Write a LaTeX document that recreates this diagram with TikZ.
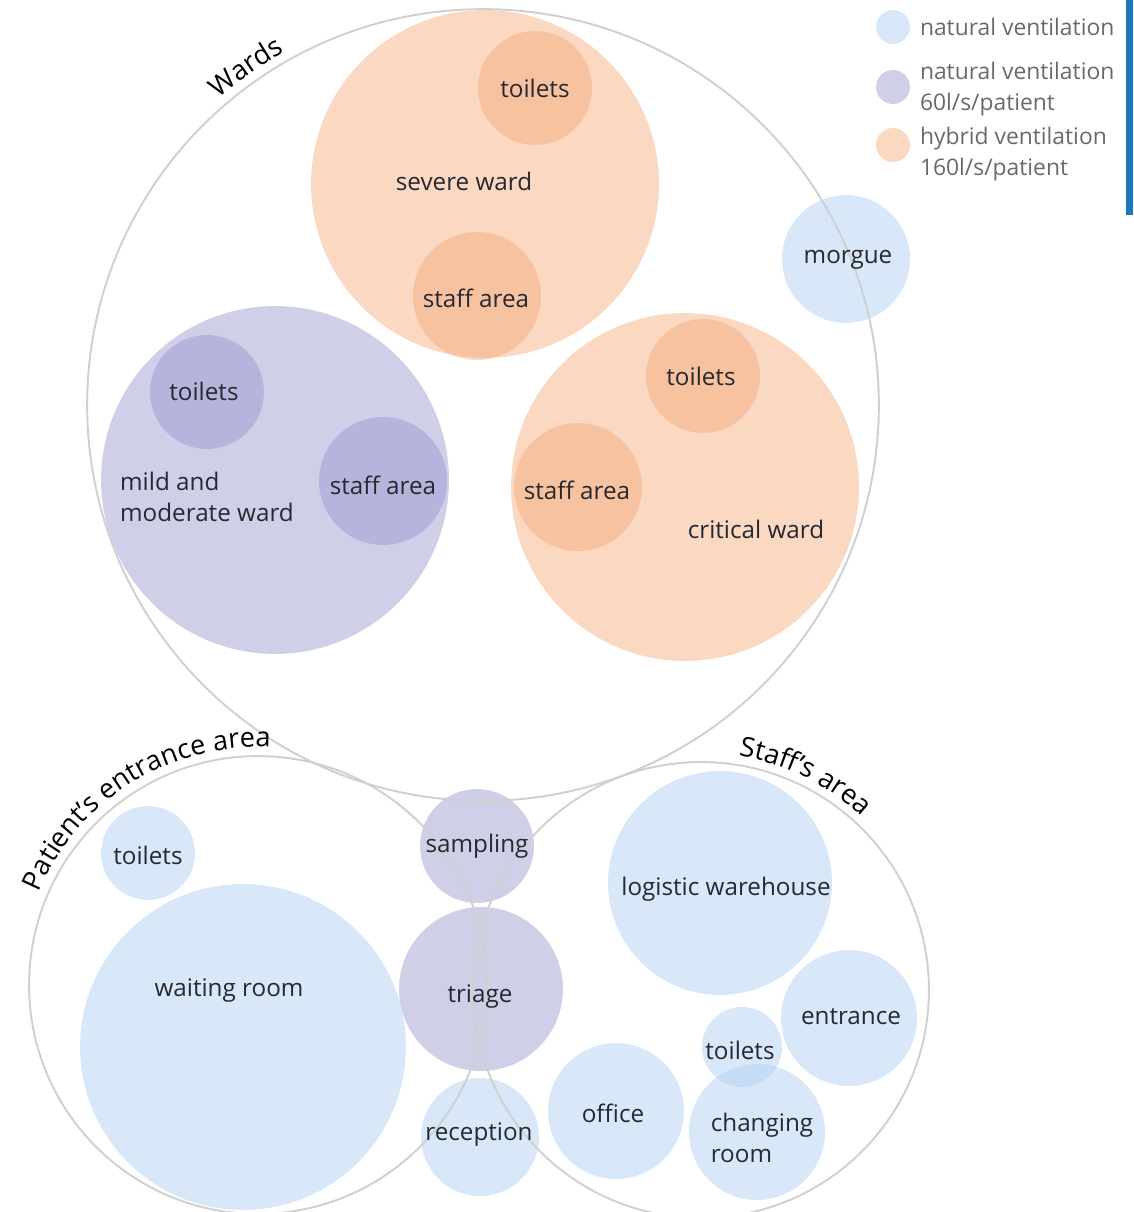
\documentclass[tikz,border=0pt]{standalone}
\usepackage{fontspec}
\setmainfont{Open Sans}
\usetikzlibrary{positioning,calc,decorations.text}

\definecolor{airblue}{RGB}{170,205,240}
\definecolor{airpurple}{RGB}{150,148,205}
\definecolor{airorange}{RGB}{243,168,118}
\definecolor{bordergray}{RGB}{208,208,208}
\definecolor{roomtext}{RGB}{40,40,48}
\definecolor{legendtext}{RGB}{105,105,105}
\definecolor{barblue}{RGB}{28,120,190}

\newcommand{\roomfont}{\fontsize{13.8}{17.6}\selectfont}
\newcommand{\legfont}{\fontsize{13}{17.6}\selectfont}
\newcommand{\areafont}{\fontsize{15.5}{18}\selectfont}

\tikzset{
  zone/.style={circle, inner sep=0pt, outer sep=0pt, minimum size=#1*0.04cm},
  natural/.style={fill=airblue, fill opacity=0.45},
  mech/.style={fill=airpurple, fill opacity=0.45},
  hybrid/.style={fill=airorange, fill opacity=0.45},
  area/.style={zone=#1, draw=bordergray, line width=1.1pt},
  room/.style={text=roomtext, font=\roomfont, inner sep=0pt, align=center},
  legtext/.style={text=legendtext, font=\legfont, inner sep=0pt, align=left, anchor=west},
  arealabel/.style={decorate, decoration={text along path, text align=center, text={#1}}}
}

\begin{document}
\begin{tikzpicture}[x=0.02cm, y=-0.02cm]
    \useasboundingbox (0,0) rectangle (1133,1212);

    % wards
    \node[zone=174, hybrid] (severe) at (485,184) {};
    \node[zone=57, hybrid] (severetoilets) at (535,88) {};
    \node[zone=64, hybrid] (severestaff) at (477,296) {};
    \node[zone=64, natural] (morgue) at (846,259) {};
    \node[zone=174, mech] (mild) at (275,480) {};
    \node[zone=57, mech] (mildtoilets) at (207,392) {};
    \node[zone=64, mech] (mildstaff) at (383,481) {};
    \node[zone=174, hybrid] (critical) at (685,487) {};
    \node[zone=57, hybrid] (criticaltoilets) at (703,376) {};
    \node[zone=64, hybrid] (criticalstaff) at (578,487) {};

    % patient's entrance and staff's area
    \node[zone=47, natural] (entrytoilets) at (148,853) {};
    \node[zone=163, natural] (waiting) at (243,1047) {};
    \node[zone=57, mech] (sampling) at (477,846) {};
    \node[zone=82, mech] (triage) at (481,989) {};
    \node[zone=59, natural] (reception) at (480,1137) {};
    \node[zone=112, natural] (warehouse) at (720,883) {};
    \node[zone=68, natural] (entrance) at (849,1018) {};
    \node[zone=68, natural] (office) at (616,1111) {};
    \node[zone=68, natural] (changing) at (757,1132) {};
    \node[zone=40, natural] (stafftoilets) at (742,1047) {};

    % outlines of the three areas
    \node[area=396] (wards) at (483,405) {};
    \node[area=229] (entryarea) at (258,985) {};
    \node[area=228] (staffarea) at (701,990) {};

    \path[arealabel={|\areafont|Wards}]
        ($(wards.center)+(145:8.1cm)$) arc[start angle=145, end angle=105, radius=8.1cm];
    \path[arealabel={|\areafont|Patient’s entrance area}]
        ($(entryarea.center)+(170:4.76cm)$) arc[start angle=170, end angle=74, radius=4.76cm];
    \path[arealabel={|\areafont|Staff’s area}]
        ($(staffarea.center)+(100:4.74cm)$) arc[start angle=100, end angle=28, radius=4.74cm];

    % room names
    \node[room] (severetoiletstext) at (535,88) {toilets};
    \node[room] (severetext) at (464,181) {severe ward};
    \node[room] (severestafftext) at (476,298) {staff area};
    \node[room] (morguetext) at (848,260) {morgue};
    \node[room] (mildtoiletstext) at (204,391) {toilets};
    \node[room, align=left] (mildtext) at (207,497) {mild and\\moderate ward};
    \node[room] (mildstafftext) at (383,485) {staff area};
    \node[room] (criticaltoiletstext) at (701,376) {toilets};
    \node[room] (criticalstafftext) at (577,490) {staff area};
    \node[room] (criticaltext) at (756,529) {critical ward};
    \node[room] (entrytoiletstext) at (148,855) {toilets};
    \node[room] (waitingtext) at (229,991) {waiting room};
    \node[room] (samplingtext) at (477,846) {sampling};
    \node[room] (triagetext) at (480,997) {triage};
    \node[room] (receptiontext) at (479,1135) {reception};
    \node[room] (warehousetext) at (726,889) {logistic warehouse};
    \node[room] (entrancetext) at (851,1017) {entrance};
    \node[room] (stafftoiletstext) at (740,1050) {toilets};
    \node[room] (officetext) at (613,1113) {office};
    \node[room, align=left] (changingtext) at (762,1138) {changing\\room};

    % legend
    \node[zone=17, natural] (leg1) at (893,27) {};
    \node[zone=17, mech] (leg2) at (893,87) {};
    \node[zone=17, hybrid] (leg3) at (893,145) {};
    \node[legtext, right=5.5pt of leg1] (legtext1) {natural ventilation};
    \node[legtext, right=5.5pt of leg2, yshift=-1pt] (legtext2) {natural ventilation\\60l/s/patient};
    \node[legtext, right=5.5pt of leg3, yshift=-5pt] (legtext3) {hybrid ventilation\\160l/s/patient};

    \fill[barblue] (1126,0) rectangle (1133,215);
\end{tikzpicture}
\end{document}
